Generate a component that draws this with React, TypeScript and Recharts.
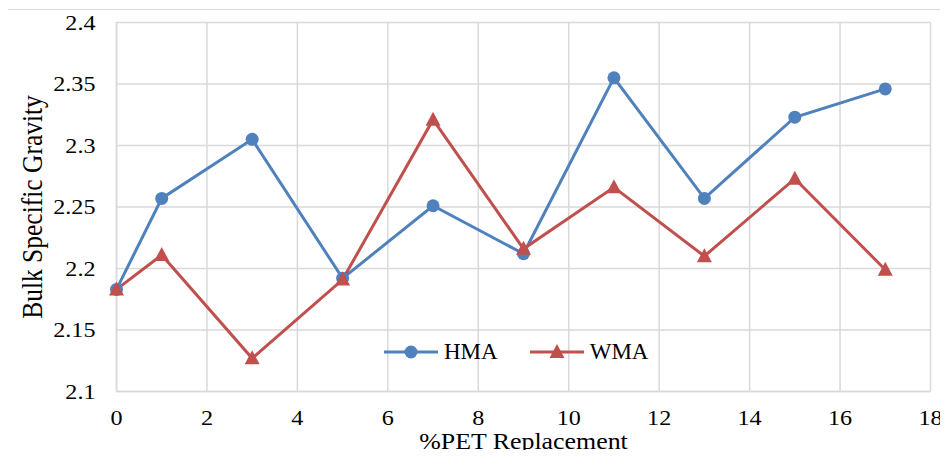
import * as React from "react";
import {
  CartesianGrid,
  Label,
  Line,
  LineChart,
  XAxis,
  YAxis,
} from "recharts";

const petPct = [0, 1, 3, 5, 7, 9, 11, 13, 15, 17];
const hmaValues = [2.183, 2.257, 2.305, 2.192, 2.251, 2.212, 2.355, 2.257, 2.323, 2.346];
const wmaValues = [2.183, 2.211, 2.127, 2.191, 2.321, 2.216, 2.266, 2.210, 2.273, 2.199];
const xTicks = [0, 2, 4, 6, 8, 10, 12, 14, 16, 18];
const yTicks = [2.1, 2.15, 2.2, 2.25, 2.3, 2.35, 2.4];
const seriesNames = ["HMA", "WMA"];

const HMA_COLOR = "#4f81bd";
const WMA_COLOR = "#c0504d";
const GRID = "#d9d9d9";
const FONT = "Liberation Serif, Times New Roman, serif";
// the source image is a bit stretched sideways, so the text is too
const STRETCH = 1.15;

const data = petPct.map((x, i) => ({ x, hma: hmaValues[i], wma: wmaValues[i] }));

function Triangle(props: any) {
  const { cx, cy, fill } = props;
  if (cx == null || cy == null) return null;
  return (
    <path
      d={`M${cx},${cy - 8} L${cx + 7.5},${cy + 6} L${cx - 7.5},${cy + 6} Z`}
      fill={fill}
    />
  );
}

function XTick(props: any) {
  const { x, y, payload } = props;
  return (
    <text
      transform={`translate(${x},${y + 21.5}) scale(${STRETCH},1)`}
      textAnchor="middle"
      style={{ fontFamily: FONT, fontSize: 21 }}
      fill="#000"
    >
      {payload.value}
    </text>
  );
}

function YTick(props: any) {
  const { x, y, payload } = props;
  return (
    <text
      transform={`translate(${x},${y + 7}) scale(${STRETCH},1)`}
      textAnchor="end"
      style={{ fontFamily: FONT, fontSize: 21 }}
      fill="#000"
    >
      {payload.value}
    </text>
  );
}

// legend drawn by hand so the marker sits on a short line like Excel's
function LegendBody() {
  const item = (label: string, color: string, tri: boolean) => (
    <div key={label} style={{ display: "flex", alignItems: "center", marginRight: 32 }}>
      <svg width={54} height={20}>
        <line x1={0} y1={10} x2={54} y2={10} stroke={color} strokeWidth={3} />
        {tri ? (
          <path d="M27,2 L34.5,16 L19.5,16 Z" fill={color} />
        ) : (
          <circle cx={27} cy={10} r={6.5} fill={color} />
        )}
      </svg>
      <span style={{ marginLeft: 6 }}>{label}</span>
    </div>
  );
  return (
    <div
      style={{
        position: "absolute",
        left: 384,
        top: 338,
        display: "flex",
        fontFamily: FONT,
        fontSize: 23,
        lineHeight: "28px",
        color: "#000",
      }}
    >
      {item(seriesNames[0], HMA_COLOR, false)}
      {item(seriesNames[1], WMA_COLOR, true)}
    </div>
  );
}

export default function App() {
  return (
    <div style={{ position: "relative", margin: -8, width: 948, height: 458, background: "#fff", overflow: "hidden" }}>
      <div
        style={{
          position: "absolute",
          left: 7,
          top: 9,
          width: 1000,
          height: 500,
          borderLeft: `1px solid ${GRID}`,
          borderTop: `1px solid ${GRID}`,
        }}
      />
      <LineChart
        width={948}
        height={458}
        data={data}
        margin={{ top: 22.5, right: 17.5, left: 16.5, bottom: 0 }}
        style={{ position: "absolute", left: 0, top: 0 }}
      >
        <CartesianGrid stroke={GRID} strokeWidth={1.5} />
        <XAxis
          dataKey="x"
          type="number"
          domain={[0, 18]}
          ticks={xTicks}
          height={66.5}
          axisLine={{ stroke: GRID, strokeWidth: 1.5 }}
          tickLine={false}
          tickSize={0}
          tickMargin={12}
          tick={<XTick />}
        >
          <Label
            content={() => (
              <text
                transform={`translate(523.5,449) scale(${STRETCH},1)`}
                textAnchor="middle"
                style={{ fontFamily: FONT, fontSize: 22.5 }}
                fill="#000"
              >
                %PET Replacement
              </text>
            )}
          />
        </XAxis>
        <YAxis
          type="number"
          domain={[2.1, 2.4]}
          ticks={yTicks}
          width={100}
          axisLine={{ stroke: GRID, strokeWidth: 1.5 }}
          tickLine={false}
          tickSize={0}
          tickMargin={21}
          tick={<YTick />}
        >
          <Label
            content={() => (
              <text
                transform={`translate(42,207) rotate(-90) scale(1,${STRETCH})`}
                textAnchor="middle"
                style={{ fontFamily: FONT, fontSize: 25.5 }}
                fill="#000"
              >
                Bulk Specific Gravity
              </text>
            )}
          />
        </YAxis>
        <Line
          dataKey="hma"
          stroke={HMA_COLOR}
          strokeWidth={3}
          dot={{ r: 6.5, fill: HMA_COLOR, stroke: "none" }}
          activeDot={false}
          isAnimationActive={false}
        />
        <Line
          dataKey="wma"
          stroke={WMA_COLOR}
          strokeWidth={3}
          dot={<Triangle fill={WMA_COLOR} />}
          activeDot={false}
          isAnimationActive={false}
        />
      </LineChart>
      <LegendBody />
    </div>
  );
}
